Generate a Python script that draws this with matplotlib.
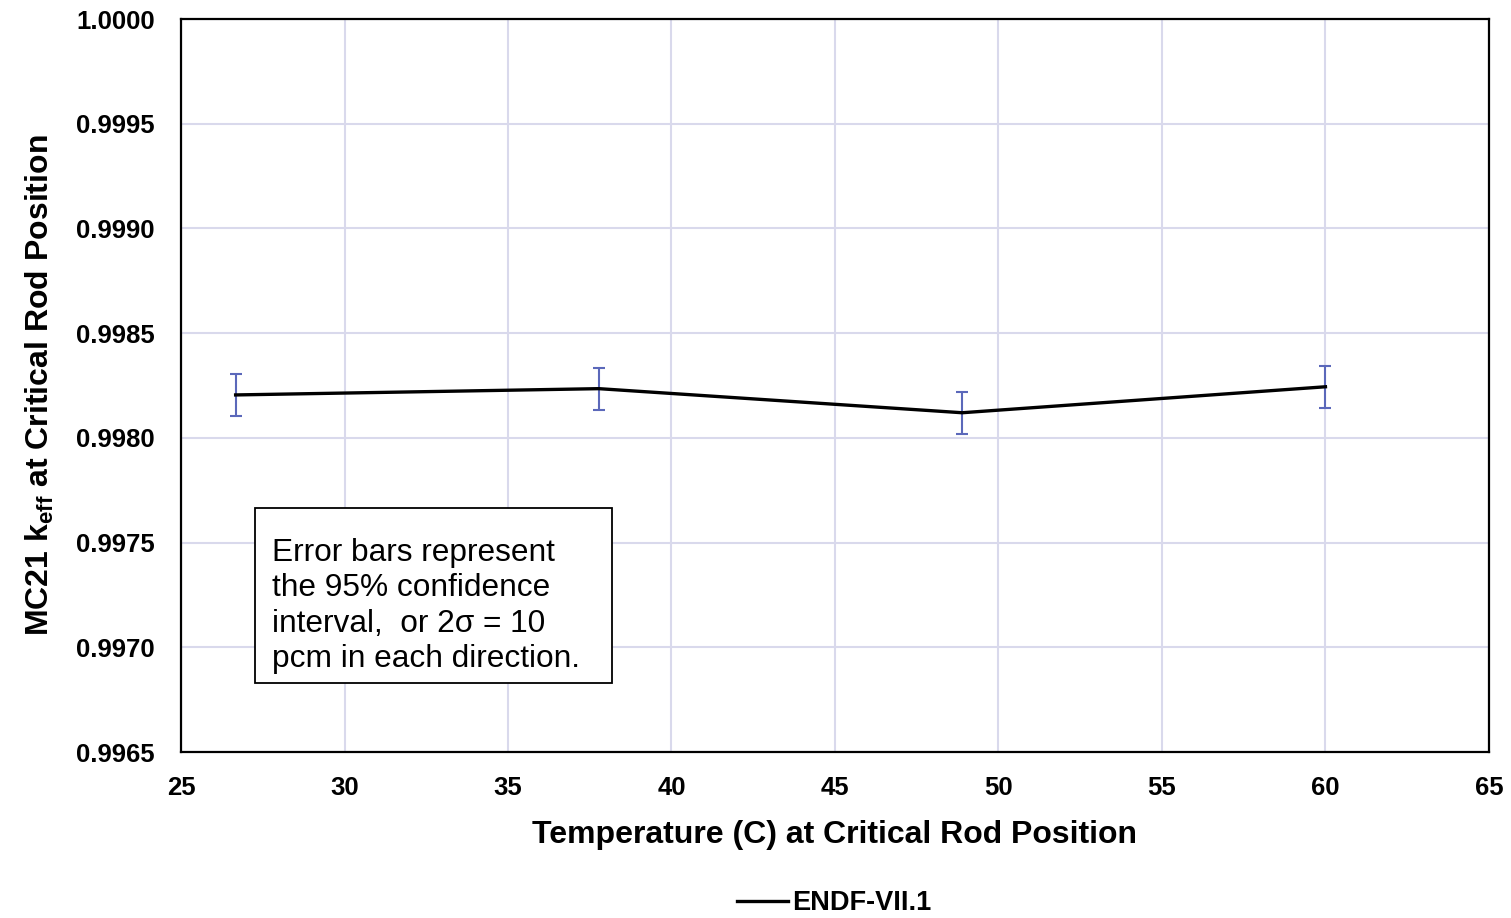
import matplotlib
matplotlib.use("Agg")
import matplotlib.pyplot as plt
from matplotlib.patches import Rectangle
from matplotlib.ticker import MultipleLocator, FormatStrFormatter

plt.rcParams["font.family"] = ["Liberation Sans", "DejaVu Sans"]
plt.rcParams["mathtext.fontset"] = "custom"
plt.rcParams["mathtext.rm"] = "Liberation Sans:bold"
plt.rcParams["mathtext.bf"] = "Liberation Sans:bold"

# Critical rod position k-eff vs. moderator temperature
temperature_c = [26.67, 37.78, 48.89, 60.0]
keff = [0.998205, 0.998235, 0.998120, 0.998244]
keff_err = [0.0001, 0.0001, 0.0001, 0.0001]
series_label = "ENDF-VII.1"

fig = plt.figure(figsize=(15.11, 9.18), dpi=100)
ax = fig.add_axes([0.1198, 0.1808, 0.8656, 0.7985])

ax.errorbar(temperature_c, keff, yerr=keff_err, fmt="none",
            ecolor="#5B68BA", elinewidth=1.5, capsize=4, capthick=1.5, zorder=3)
ax.plot(temperature_c, keff, color="black", lw=2.4, label=series_label, zorder=4)

ax.set_xlim(25, 65)
ax.set_ylim(0.9965, 1.0000)
ax.xaxis.set_major_locator(MultipleLocator(5))
ax.yaxis.set_major_locator(MultipleLocator(0.0005))
ax.yaxis.set_major_formatter(FormatStrFormatter("%.4f"))
ax.grid(True, color="#D9D9EC", lw=1.5)
ax.set_axisbelow(True)
ax.tick_params(length=0, labelsize=18.5)
ax.tick_params(axis="y", pad=19)
ax.tick_params(axis="x", pad=17)
for lbl in ax.get_xticklabels() + ax.get_yticklabels():
    lbl.set_fontweight("bold")
for sp in ax.spines.values():
    sp.set_color("black")
    sp.set_linewidth(1.6)

ax.set_xlabel("Temperature (C) at Critical Rod Position", fontsize=23,
              fontweight="bold", labelpad=15)
ax.set_ylabel(r"MC21 k$_{\mathbf{eff}}$ at Critical Rod Position",
              fontsize=23, fontweight="bold", labelpad=14)

# note box; baseline alignment pins the last line
ax.add_patch(Rectangle((0.0566, 0.094), 0.273, 0.2384, transform=ax.transAxes,
                       fc="white", ec="black", lw=1.3, zorder=5))
ax.text(0.0696, 0.1158,
        "Error bars represent\nthe 95% confidence\ninterval,  or 2σ = 10\npcm in each direction.",
        transform=ax.transAxes, fontsize=22.8, va="baseline", ha="left",
        linespacing=1.24, zorder=6)

fig.legend(loc="center", bbox_to_anchor=(0.552, 0.016), frameon=False,
           prop={"weight": "bold", "size": 19.5}, handlelength=1.9,
           handletextpad=0.15, borderpad=0.1)

fig.savefig("out.png", dpi=100)
